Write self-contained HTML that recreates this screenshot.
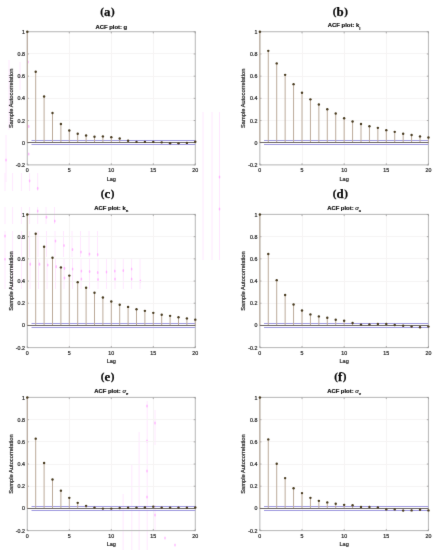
<!DOCTYPE html>
<html><head><meta charset="utf-8"><title>ACF plots</title>
<style>
html,body{margin:0;padding:0;background:#fff;}
body{width:438px;height:550px;overflow:hidden;font-family:"Liberation Sans",sans-serif;}
svg{display:block;will-change:transform;}
</style></head><body>
<svg width="438" height="550" viewBox="0 0 438 550" font-family="Liberation Sans, sans-serif"><defs><filter id="bl" x="0" y="0" width="100%" height="100%" color-interpolation-filters="sRGB"><feConvolveMatrix order="3" kernelMatrix="0.00524 0.06192 0.00524 0.06192 0.73137 0.06192 0.00524 0.06192 0.00524" edgeMode="duplicate"/></filter></defs><g filter="url(#bl)"><rect width="438" height="550" fill="#fff"/><g><line x1="5" y1="173" x2="5" y2="191" stroke="#ffe8ff" stroke-width="1"/><line x1="12.6" y1="173" x2="12.6" y2="191" stroke="#ffe8ff" stroke-width="1"/><line x1="21.4" y1="173" x2="21.4" y2="191" stroke="#ffe8ff" stroke-width="1"/><line x1="29.6" y1="173" x2="29.6" y2="191" stroke="#ffe8ff" stroke-width="1"/><line x1="37.7" y1="173" x2="37.7" y2="191" stroke="#ffe8ff" stroke-width="1"/><line x1="5" y1="207" x2="5" y2="224" stroke="#ffe8ff" stroke-width="1"/><line x1="12.6" y1="207" x2="12.6" y2="224" stroke="#ffe8ff" stroke-width="1"/><line x1="21.4" y1="207" x2="21.4" y2="224" stroke="#ffe8ff" stroke-width="1"/><line x1="29.6" y1="207" x2="29.6" y2="224" stroke="#ffe8ff" stroke-width="1"/><line x1="37.7" y1="207" x2="37.7" y2="224" stroke="#ffe8ff" stroke-width="1"/><line x1="46" y1="207" x2="46" y2="224" stroke="#ffe8ff" stroke-width="1"/><line x1="54.5" y1="207" x2="54.5" y2="224" stroke="#ffe8ff" stroke-width="1"/><line x1="5" y1="231" x2="5" y2="257" stroke="#ffe8ff" stroke-width="1"/><line x1="12.6" y1="231" x2="12.6" y2="257" stroke="#ffe8ff" stroke-width="1"/><line x1="21.4" y1="231" x2="21.4" y2="257" stroke="#ffe8ff" stroke-width="1"/><line x1="29.6" y1="231" x2="29.6" y2="257" stroke="#ffe8ff" stroke-width="1"/><line x1="38" y1="231" x2="38" y2="257" stroke="#ffe8ff" stroke-width="1"/><line x1="46.5" y1="231" x2="46.5" y2="257" stroke="#ffe8ff" stroke-width="1"/><line x1="55" y1="231" x2="55" y2="257" stroke="#ffe8ff" stroke-width="1"/><line x1="63.5" y1="231" x2="63.5" y2="257" stroke="#ffe8ff" stroke-width="1"/><line x1="72" y1="231" x2="72" y2="257" stroke="#ffe8ff" stroke-width="1"/><line x1="80.5" y1="231" x2="80.5" y2="257" stroke="#ffe8ff" stroke-width="1"/><line x1="89" y1="231" x2="89" y2="257" stroke="#ffe8ff" stroke-width="1"/><line x1="97.5" y1="231" x2="97.5" y2="257" stroke="#ffe8ff" stroke-width="1"/><line x1="5" y1="259" x2="5" y2="289" stroke="#ffe8ff" stroke-width="1"/><line x1="12.6" y1="259" x2="12.6" y2="289" stroke="#ffe8ff" stroke-width="1"/><line x1="21.4" y1="259" x2="21.4" y2="289" stroke="#ffe8ff" stroke-width="1"/><line x1="30" y1="259" x2="30" y2="289" stroke="#ffe8ff" stroke-width="1"/><line x1="38.5" y1="259" x2="38.5" y2="289" stroke="#ffe8ff" stroke-width="1"/><line x1="47" y1="259" x2="47" y2="289" stroke="#ffe8ff" stroke-width="1"/><line x1="55.5" y1="259" x2="55.5" y2="289" stroke="#ffe8ff" stroke-width="1"/><line x1="64" y1="259" x2="64" y2="289" stroke="#ffe8ff" stroke-width="1"/><line x1="72.5" y1="259" x2="72.5" y2="289" stroke="#ffe8ff" stroke-width="1"/><line x1="81" y1="259" x2="81" y2="289" stroke="#ffe8ff" stroke-width="1"/><line x1="89.5" y1="259" x2="89.5" y2="289" stroke="#ffe8ff" stroke-width="1"/><line x1="98" y1="259" x2="98" y2="289" stroke="#ffe8ff" stroke-width="1"/><line x1="106.5" y1="259" x2="106.5" y2="289" stroke="#ffe8ff" stroke-width="1"/><line x1="115" y1="259" x2="115" y2="289" stroke="#ffe8ff" stroke-width="1"/><line x1="123.3" y1="259" x2="123.3" y2="289" stroke="#ffe8ff" stroke-width="1"/><line x1="131.6" y1="259" x2="131.6" y2="289" stroke="#ffe8ff" stroke-width="1"/><line x1="140" y1="259" x2="140" y2="289" stroke="#ffe8ff" stroke-width="1"/><line x1="123.1" y1="494" x2="123.1" y2="550" stroke="#ffe8ff" stroke-width="1"/><line x1="131.8" y1="464" x2="131.8" y2="550" stroke="#ffe8ff" stroke-width="1"/><line x1="139.1" y1="432" x2="139.1" y2="550" stroke="#ffe8ff" stroke-width="1"/><line x1="147.2" y1="401" x2="147.2" y2="550" stroke="#ffe8ff" stroke-width="1"/><line x1="155" y1="410" x2="155" y2="445" stroke="#ffe8ff" stroke-width="1"/><line x1="155" y1="505" x2="155" y2="530" stroke="#ffe8ff" stroke-width="1"/><line x1="203" y1="112" x2="203" y2="260" stroke="#ffe8ff" stroke-width="1"/><line x1="212" y1="112" x2="212" y2="260" stroke="#ffe8ff" stroke-width="1"/><line x1="219.5" y1="112" x2="219.5" y2="260" stroke="#ffe8ff" stroke-width="1"/><line x1="6" y1="135" x2="6" y2="182" stroke="#ffe8ff" stroke-width="1"/><line x1="9" y1="60" x2="9" y2="130" stroke="#ffe8ff" stroke-width="1"/><line x1="20" y1="62" x2="20" y2="90" stroke="#ffe8ff" stroke-width="1"/><ellipse cx="29.6" cy="180.8" rx="0.8" ry="1.6" fill="#ff90ff" fill-opacity="0.6"/><ellipse cx="37.7" cy="188.3" rx="0.8" ry="1.6" fill="#ff90ff" fill-opacity="0.6"/><ellipse cx="37.7" cy="211" rx="0.8" ry="1.6" fill="#ff90ff" fill-opacity="0.6"/><ellipse cx="46.5" cy="217.2" rx="0.8" ry="1.6" fill="#ff90ff" fill-opacity="0.6"/><ellipse cx="54.8" cy="221" rx="0.8" ry="1.6" fill="#ff90ff" fill-opacity="0.6"/><ellipse cx="5" cy="236" rx="0.8" ry="1.6" fill="#ff90ff" fill-opacity="0.6"/><ellipse cx="55.5" cy="241" rx="0.8" ry="1.6" fill="#ff90ff" fill-opacity="0.6"/><ellipse cx="64" cy="245.5" rx="0.8" ry="1.6" fill="#ff90ff" fill-opacity="0.6"/><ellipse cx="72.5" cy="249.5" rx="0.8" ry="1.6" fill="#ff90ff" fill-opacity="0.6"/><ellipse cx="81" cy="252" rx="0.8" ry="1.6" fill="#ff90ff" fill-opacity="0.6"/><ellipse cx="89.5" cy="254" rx="0.8" ry="1.6" fill="#ff90ff" fill-opacity="0.6"/><ellipse cx="97.7" cy="254.5" rx="0.8" ry="1.6" fill="#ff90ff" fill-opacity="0.6"/><ellipse cx="5" cy="259" rx="0.8" ry="1.6" fill="#ff90ff" fill-opacity="0.6"/><ellipse cx="30.3" cy="264.2" rx="0.8" ry="1.6" fill="#ff90ff" fill-opacity="0.6"/><ellipse cx="39.5" cy="264.2" rx="0.8" ry="1.6" fill="#ff90ff" fill-opacity="0.6"/><ellipse cx="47.8" cy="265" rx="0.8" ry="1.6" fill="#ff90ff" fill-opacity="0.6"/><ellipse cx="56.2" cy="266.7" rx="0.8" ry="1.6" fill="#ff90ff" fill-opacity="0.6"/><ellipse cx="64.5" cy="268.3" rx="0.8" ry="1.6" fill="#ff90ff" fill-opacity="0.6"/><ellipse cx="72.6" cy="269" rx="0.8" ry="1.6" fill="#ff90ff" fill-opacity="0.6"/><ellipse cx="81.4" cy="271" rx="0.8" ry="1.6" fill="#ff90ff" fill-opacity="0.6"/><ellipse cx="89.6" cy="271.5" rx="0.8" ry="1.6" fill="#ff90ff" fill-opacity="0.6"/><ellipse cx="97.7" cy="272.5" rx="0.8" ry="1.6" fill="#ff90ff" fill-opacity="0.6"/><ellipse cx="106.5" cy="272" rx="0.8" ry="1.6" fill="#ff90ff" fill-opacity="0.6"/><ellipse cx="114.8" cy="271" rx="0.8" ry="1.6" fill="#ff90ff" fill-opacity="0.6"/><ellipse cx="123.3" cy="270.5" rx="0.8" ry="1.6" fill="#ff90ff" fill-opacity="0.6"/><ellipse cx="131.6" cy="269" rx="0.8" ry="1.6" fill="#ff90ff" fill-opacity="0.6"/><ellipse cx="64.5" cy="278" rx="0.8" ry="1.6" fill="#ff90ff" fill-opacity="0.6"/><ellipse cx="81.4" cy="279" rx="0.8" ry="1.6" fill="#ff90ff" fill-opacity="0.6"/><ellipse cx="98" cy="279.5" rx="0.8" ry="1.6" fill="#ff90ff" fill-opacity="0.6"/><ellipse cx="115" cy="279" rx="0.8" ry="1.6" fill="#ff90ff" fill-opacity="0.6"/><ellipse cx="131.6" cy="279" rx="0.8" ry="1.6" fill="#ff90ff" fill-opacity="0.6"/><ellipse cx="140.4" cy="281" rx="0.8" ry="1.6" fill="#ff90ff" fill-opacity="0.6"/><ellipse cx="147" cy="406" rx="0.8" ry="1.6" fill="#ff90ff" fill-opacity="0.6"/><ellipse cx="147" cy="441" rx="0.8" ry="1.6" fill="#ff90ff" fill-opacity="0.6"/><ellipse cx="147" cy="471" rx="0.8" ry="1.6" fill="#ff90ff" fill-opacity="0.6"/><ellipse cx="147" cy="497" rx="0.8" ry="1.6" fill="#ff90ff" fill-opacity="0.6"/><ellipse cx="155" cy="423" rx="0.8" ry="1.6" fill="#ff90ff" fill-opacity="0.6"/><ellipse cx="155" cy="515" rx="0.8" ry="1.6" fill="#ff90ff" fill-opacity="0.6"/><ellipse cx="165" cy="538" rx="0.8" ry="1.6" fill="#ff90ff" fill-opacity="0.6"/><ellipse cx="175" cy="545" rx="0.8" ry="1.6" fill="#ff90ff" fill-opacity="0.6"/><ellipse cx="219.5" cy="177" rx="0.8" ry="1.6" fill="#ff90ff" fill-opacity="0.6"/><ellipse cx="219.5" cy="209" rx="0.8" ry="1.6" fill="#ff90ff" fill-opacity="0.6"/><ellipse cx="28.7" cy="126.4" rx="0.8" ry="1.6" fill="#ff90ff" fill-opacity="0.6"/><ellipse cx="28.7" cy="154" rx="0.8" ry="1.6" fill="#ff90ff" fill-opacity="0.6"/><ellipse cx="28" cy="62" rx="0.8" ry="1.6" fill="#ff90ff" fill-opacity="0.6"/><ellipse cx="6" cy="160" rx="0.8" ry="1.6" fill="#ff90ff" fill-opacity="0.6"/></g>
<g><text x="107.55" y="14.83" font-family="Liberation Serif" font-weight="bold" font-size="11.0" text-anchor="middle" fill="#0a0a0a" stroke="#0a0a0a" stroke-width="0.25">(<tspan font-size="12.9" dy="0.87" dx="0.1">a</tspan><tspan dy="-0.87" dx="0.5">)</tspan></text><text x="111.3" y="29.45" font-family="Liberation Sans" font-weight="bold" font-size="5.9" text-anchor="middle" fill="#0a0a0a" stroke="#0a0a0a" stroke-width="0.16">ACF plot: g</text><line x1="69.5" y1="31.8" x2="69.5" y2="164.88" stroke="#f6f4f4" stroke-width="1"/><line x1="111.5" y1="31.8" x2="111.5" y2="164.88" stroke="#f6f4f4" stroke-width="1"/><line x1="153.5" y1="31.8" x2="153.5" y2="164.88" stroke="#f6f4f4" stroke-width="1"/><line x1="27.3" y1="53.5" x2="195.3" y2="53.5" stroke="#f6f4f4" stroke-width="1"/><line x1="27.3" y1="76.5" x2="195.3" y2="76.5" stroke="#f6f4f4" stroke-width="1"/><line x1="27.3" y1="98.5" x2="195.3" y2="98.5" stroke="#f6f4f4" stroke-width="1"/><line x1="27.3" y1="120.5" x2="195.3" y2="120.5" stroke="#f6f4f4" stroke-width="1"/><line x1="27.3" y1="142.5" x2="195.3" y2="142.5" stroke="#f6f4f4" stroke-width="1"/><rect x="27.3" y="31.7" width="168" height="133.18" fill="none" stroke="#bdbdbd" stroke-width="1.1"/><line x1="27.3" y1="164.88" x2="27.3" y2="163.28" stroke="#9a9a9a" stroke-width="0.8"/><line x1="27.3" y1="31.8" x2="27.3" y2="33.4" stroke="#9a9a9a" stroke-width="0.8"/><line x1="69.3" y1="164.88" x2="69.3" y2="163.28" stroke="#9a9a9a" stroke-width="0.8"/><line x1="69.3" y1="31.8" x2="69.3" y2="33.4" stroke="#9a9a9a" stroke-width="0.8"/><line x1="111.3" y1="164.88" x2="111.3" y2="163.28" stroke="#9a9a9a" stroke-width="0.8"/><line x1="111.3" y1="31.8" x2="111.3" y2="33.4" stroke="#9a9a9a" stroke-width="0.8"/><line x1="153.3" y1="164.88" x2="153.3" y2="163.28" stroke="#9a9a9a" stroke-width="0.8"/><line x1="153.3" y1="31.8" x2="153.3" y2="33.4" stroke="#9a9a9a" stroke-width="0.8"/><line x1="195.3" y1="164.88" x2="195.3" y2="163.28" stroke="#9a9a9a" stroke-width="0.8"/><line x1="195.3" y1="31.8" x2="195.3" y2="33.4" stroke="#9a9a9a" stroke-width="0.8"/><line x1="27.3" y1="31.8" x2="28.9" y2="31.8" stroke="#9a9a9a" stroke-width="0.8"/><line x1="195.3" y1="31.8" x2="193.7" y2="31.8" stroke="#9a9a9a" stroke-width="0.8"/><line x1="27.3" y1="53.98" x2="28.9" y2="53.98" stroke="#9a9a9a" stroke-width="0.8"/><line x1="195.3" y1="53.98" x2="193.7" y2="53.98" stroke="#9a9a9a" stroke-width="0.8"/><line x1="27.3" y1="76.16" x2="28.9" y2="76.16" stroke="#9a9a9a" stroke-width="0.8"/><line x1="195.3" y1="76.16" x2="193.7" y2="76.16" stroke="#9a9a9a" stroke-width="0.8"/><line x1="27.3" y1="98.34" x2="28.9" y2="98.34" stroke="#9a9a9a" stroke-width="0.8"/><line x1="195.3" y1="98.34" x2="193.7" y2="98.34" stroke="#9a9a9a" stroke-width="0.8"/><line x1="27.3" y1="120.52" x2="28.9" y2="120.52" stroke="#9a9a9a" stroke-width="0.8"/><line x1="195.3" y1="120.52" x2="193.7" y2="120.52" stroke="#9a9a9a" stroke-width="0.8"/><line x1="27.3" y1="142.7" x2="28.9" y2="142.7" stroke="#9a9a9a" stroke-width="0.8"/><line x1="195.3" y1="142.7" x2="193.7" y2="142.7" stroke="#9a9a9a" stroke-width="0.8"/><line x1="27.3" y1="164.88" x2="28.9" y2="164.88" stroke="#9a9a9a" stroke-width="0.8"/><line x1="195.3" y1="164.88" x2="193.7" y2="164.88" stroke="#9a9a9a" stroke-width="0.8"/><text x="24.9" y="33.8" font-size="5.3" text-anchor="end" fill="#2a2a2a" stroke="#2a2a2a" stroke-width="0.22">1</text><text x="24.9" y="55.98" font-size="5.3" text-anchor="end" fill="#2a2a2a" stroke="#2a2a2a" stroke-width="0.22">0.8</text><text x="24.9" y="78.16" font-size="5.3" text-anchor="end" fill="#2a2a2a" stroke="#2a2a2a" stroke-width="0.22">0.6</text><text x="24.9" y="100.34" font-size="5.3" text-anchor="end" fill="#2a2a2a" stroke="#2a2a2a" stroke-width="0.22">0.4</text><text x="24.9" y="122.52" font-size="5.3" text-anchor="end" fill="#2a2a2a" stroke="#2a2a2a" stroke-width="0.22">0.2</text><text x="24.9" y="144.7" font-size="5.3" text-anchor="end" fill="#2a2a2a" stroke="#2a2a2a" stroke-width="0.22">0</text><text x="24.9" y="166.88" font-size="5.3" text-anchor="end" fill="#2a2a2a" stroke="#2a2a2a" stroke-width="0.22">-0.2</text><text x="27.3" y="172.48" font-size="5.3" text-anchor="middle" fill="#2a2a2a" stroke="#2a2a2a" stroke-width="0.22">0</text><text x="69.3" y="172.48" font-size="5.3" text-anchor="middle" fill="#2a2a2a" stroke="#2a2a2a" stroke-width="0.22">5</text><text x="111.3" y="172.48" font-size="5.3" text-anchor="middle" fill="#2a2a2a" stroke="#2a2a2a" stroke-width="0.22">10</text><text x="153.3" y="172.48" font-size="5.3" text-anchor="middle" fill="#2a2a2a" stroke="#2a2a2a" stroke-width="0.22">15</text><text x="195.3" y="172.48" font-size="5.3" text-anchor="middle" fill="#2a2a2a" stroke="#2a2a2a" stroke-width="0.22">20</text><text x="111.3" y="180.78" font-size="5.6" text-anchor="middle" fill="#2a2a2a" stroke="#2a2a2a" stroke-width="0.22">Lag</text><text x="0" y="0" transform="translate(12.8,98.34) rotate(-90)" font-size="5.75" text-anchor="middle" fill="#2a2a2a" stroke="#2a2a2a" stroke-width="0.22">Sample Autocorrelation</text><line x1="31.5" y1="140.5" x2="195.3" y2="140.5" stroke="#a09ae0" stroke-width="1"/><line x1="31.5" y1="144.5" x2="195.3" y2="144.5" stroke="#a09ae0" stroke-width="1"/><line x1="27.3" y1="142.7" x2="27.3" y2="31.8" stroke="#bcab9b" stroke-width="1"/><line x1="35.7" y1="142.7" x2="35.7" y2="71.72" stroke="#bcab9b" stroke-width="1"/><line x1="44.1" y1="142.7" x2="44.1" y2="96.57" stroke="#bcab9b" stroke-width="1"/><line x1="52.5" y1="142.7" x2="52.5" y2="112.98" stroke="#bcab9b" stroke-width="1"/><line x1="60.9" y1="142.7" x2="60.9" y2="123.96" stroke="#bcab9b" stroke-width="1"/><line x1="69.3" y1="142.7" x2="69.3" y2="130.5" stroke="#bcab9b" stroke-width="1"/><line x1="77.7" y1="142.7" x2="77.7" y2="133.72" stroke="#bcab9b" stroke-width="1"/><line x1="86.1" y1="142.7" x2="86.1" y2="135.49" stroke="#bcab9b" stroke-width="1"/><line x1="94.5" y1="142.7" x2="94.5" y2="136.71" stroke="#bcab9b" stroke-width="1"/><line x1="102.9" y1="142.7" x2="102.9" y2="136.38" stroke="#bcab9b" stroke-width="1"/><line x1="111.3" y1="142.7" x2="111.3" y2="137.16" stroke="#bcab9b" stroke-width="1"/><line x1="119.7" y1="142.7" x2="119.7" y2="138.49" stroke="#bcab9b" stroke-width="1"/><line x1="128.1" y1="142.7" x2="128.1" y2="140.7" stroke="#bcab9b" stroke-width="1"/><line x1="136.5" y1="142.7" x2="136.5" y2="141.92" stroke="#bcab9b" stroke-width="1"/><line x1="144.9" y1="142.7" x2="144.9" y2="141.92" stroke="#bcab9b" stroke-width="1"/><line x1="153.3" y1="142.7" x2="153.3" y2="141.92" stroke="#bcab9b" stroke-width="1"/><line x1="161.7" y1="142.7" x2="161.7" y2="142.37" stroke="#bcab9b" stroke-width="1"/><line x1="170.1" y1="142.7" x2="170.1" y2="143.25" stroke="#bcab9b" stroke-width="1"/><line x1="178.5" y1="142.7" x2="178.5" y2="143.37" stroke="#bcab9b" stroke-width="1"/><line x1="186.9" y1="142.7" x2="186.9" y2="142.92" stroke="#bcab9b" stroke-width="1"/><line x1="195.3" y1="142.7" x2="195.3" y2="141.81" stroke="#bcab9b" stroke-width="1"/><line x1="27.3" y1="142.5" x2="195.3" y2="142.5" stroke="#6e6866" stroke-width="1"/><circle cx="27.3" cy="31.8" r="1.2" fill="#4a3d22"/><circle cx="35.7" cy="71.72" r="1.2" fill="#4a3d22"/><circle cx="44.1" cy="96.57" r="1.2" fill="#4a3d22"/><circle cx="52.5" cy="112.98" r="1.2" fill="#4a3d22"/><circle cx="60.9" cy="123.96" r="1.2" fill="#4a3d22"/><circle cx="69.3" cy="130.5" r="1.2" fill="#4a3d22"/><circle cx="77.7" cy="133.72" r="1.2" fill="#4a3d22"/><circle cx="86.1" cy="135.49" r="1.2" fill="#4a3d22"/><circle cx="94.5" cy="136.71" r="1.2" fill="#4a3d22"/><circle cx="102.9" cy="136.38" r="1.2" fill="#4a3d22"/><circle cx="111.3" cy="137.16" r="1.2" fill="#4a3d22"/><circle cx="119.7" cy="138.49" r="1.2" fill="#4a3d22"/><circle cx="128.1" cy="140.7" r="1.2" fill="#4a3d22"/><circle cx="136.5" cy="141.92" r="1.2" fill="#4a3d22"/><circle cx="144.9" cy="141.92" r="1.2" fill="#4a3d22"/><circle cx="153.3" cy="141.92" r="1.2" fill="#4a3d22"/><circle cx="161.7" cy="142.37" r="1.2" fill="#4a3d22"/><circle cx="170.1" cy="143.25" r="1.2" fill="#4a3d22"/><circle cx="178.5" cy="143.37" r="1.2" fill="#4a3d22"/><circle cx="186.9" cy="142.92" r="1.2" fill="#4a3d22"/><circle cx="195.3" cy="141.81" r="1.2" fill="#4a3d22"/></g>
<g><text x="340.4" y="14.83" font-family="Liberation Serif" font-weight="bold" font-size="11.0" text-anchor="middle" fill="#0a0a0a" stroke="#0a0a0a" stroke-width="0.25">(<tspan font-size="12.9" dy="0.87" dx="0.1">b</tspan><tspan dy="-0.87" dx="0.5">)</tspan></text><text x="344.15" y="27.4" font-family="Liberation Sans" font-weight="bold" font-size="5.9" text-anchor="middle" fill="#0a0a0a" stroke="#0a0a0a" stroke-width="0.16">ACF plot: k<tspan dy="2.4" font-size="4.2">l</tspan></text><line x1="302.5" y1="31.8" x2="302.5" y2="164.88" stroke="#f6f4f4" stroke-width="1"/><line x1="344.5" y1="31.8" x2="344.5" y2="164.88" stroke="#f6f4f4" stroke-width="1"/><line x1="386.5" y1="31.8" x2="386.5" y2="164.88" stroke="#f6f4f4" stroke-width="1"/><line x1="259.85" y1="53.5" x2="428.45" y2="53.5" stroke="#f6f4f4" stroke-width="1"/><line x1="259.85" y1="76.5" x2="428.45" y2="76.5" stroke="#f6f4f4" stroke-width="1"/><line x1="259.85" y1="98.5" x2="428.45" y2="98.5" stroke="#f6f4f4" stroke-width="1"/><line x1="259.85" y1="120.5" x2="428.45" y2="120.5" stroke="#f6f4f4" stroke-width="1"/><line x1="259.85" y1="142.5" x2="428.45" y2="142.5" stroke="#f6f4f4" stroke-width="1"/><rect x="259.85" y="31.7" width="168.6" height="133.18" fill="none" stroke="#bdbdbd" stroke-width="1.1"/><line x1="259.85" y1="164.88" x2="259.85" y2="163.28" stroke="#9a9a9a" stroke-width="0.8"/><line x1="259.85" y1="31.8" x2="259.85" y2="33.4" stroke="#9a9a9a" stroke-width="0.8"/><line x1="302" y1="164.88" x2="302" y2="163.28" stroke="#9a9a9a" stroke-width="0.8"/><line x1="302" y1="31.8" x2="302" y2="33.4" stroke="#9a9a9a" stroke-width="0.8"/><line x1="344.15" y1="164.88" x2="344.15" y2="163.28" stroke="#9a9a9a" stroke-width="0.8"/><line x1="344.15" y1="31.8" x2="344.15" y2="33.4" stroke="#9a9a9a" stroke-width="0.8"/><line x1="386.3" y1="164.88" x2="386.3" y2="163.28" stroke="#9a9a9a" stroke-width="0.8"/><line x1="386.3" y1="31.8" x2="386.3" y2="33.4" stroke="#9a9a9a" stroke-width="0.8"/><line x1="428.45" y1="164.88" x2="428.45" y2="163.28" stroke="#9a9a9a" stroke-width="0.8"/><line x1="428.45" y1="31.8" x2="428.45" y2="33.4" stroke="#9a9a9a" stroke-width="0.8"/><line x1="259.85" y1="31.8" x2="261.45" y2="31.8" stroke="#9a9a9a" stroke-width="0.8"/><line x1="428.45" y1="31.8" x2="426.85" y2="31.8" stroke="#9a9a9a" stroke-width="0.8"/><line x1="259.85" y1="53.98" x2="261.45" y2="53.98" stroke="#9a9a9a" stroke-width="0.8"/><line x1="428.45" y1="53.98" x2="426.85" y2="53.98" stroke="#9a9a9a" stroke-width="0.8"/><line x1="259.85" y1="76.16" x2="261.45" y2="76.16" stroke="#9a9a9a" stroke-width="0.8"/><line x1="428.45" y1="76.16" x2="426.85" y2="76.16" stroke="#9a9a9a" stroke-width="0.8"/><line x1="259.85" y1="98.34" x2="261.45" y2="98.34" stroke="#9a9a9a" stroke-width="0.8"/><line x1="428.45" y1="98.34" x2="426.85" y2="98.34" stroke="#9a9a9a" stroke-width="0.8"/><line x1="259.85" y1="120.52" x2="261.45" y2="120.52" stroke="#9a9a9a" stroke-width="0.8"/><line x1="428.45" y1="120.52" x2="426.85" y2="120.52" stroke="#9a9a9a" stroke-width="0.8"/><line x1="259.85" y1="142.7" x2="261.45" y2="142.7" stroke="#9a9a9a" stroke-width="0.8"/><line x1="428.45" y1="142.7" x2="426.85" y2="142.7" stroke="#9a9a9a" stroke-width="0.8"/><line x1="259.85" y1="164.88" x2="261.45" y2="164.88" stroke="#9a9a9a" stroke-width="0.8"/><line x1="428.45" y1="164.88" x2="426.85" y2="164.88" stroke="#9a9a9a" stroke-width="0.8"/><text x="257.45" y="33.8" font-size="5.3" text-anchor="end" fill="#2a2a2a" stroke="#2a2a2a" stroke-width="0.22">1</text><text x="257.45" y="55.98" font-size="5.3" text-anchor="end" fill="#2a2a2a" stroke="#2a2a2a" stroke-width="0.22">0.8</text><text x="257.45" y="78.16" font-size="5.3" text-anchor="end" fill="#2a2a2a" stroke="#2a2a2a" stroke-width="0.22">0.6</text><text x="257.45" y="100.34" font-size="5.3" text-anchor="end" fill="#2a2a2a" stroke="#2a2a2a" stroke-width="0.22">0.4</text><text x="257.45" y="122.52" font-size="5.3" text-anchor="end" fill="#2a2a2a" stroke="#2a2a2a" stroke-width="0.22">0.2</text><text x="257.45" y="144.7" font-size="5.3" text-anchor="end" fill="#2a2a2a" stroke="#2a2a2a" stroke-width="0.22">0</text><text x="257.45" y="166.88" font-size="5.3" text-anchor="end" fill="#2a2a2a" stroke="#2a2a2a" stroke-width="0.22">-0.2</text><text x="259.85" y="172.48" font-size="5.3" text-anchor="middle" fill="#2a2a2a" stroke="#2a2a2a" stroke-width="0.22">0</text><text x="302" y="172.48" font-size="5.3" text-anchor="middle" fill="#2a2a2a" stroke="#2a2a2a" stroke-width="0.22">5</text><text x="344.15" y="172.48" font-size="5.3" text-anchor="middle" fill="#2a2a2a" stroke="#2a2a2a" stroke-width="0.22">10</text><text x="386.3" y="172.48" font-size="5.3" text-anchor="middle" fill="#2a2a2a" stroke="#2a2a2a" stroke-width="0.22">15</text><text x="428.45" y="172.48" font-size="5.3" text-anchor="middle" fill="#2a2a2a" stroke="#2a2a2a" stroke-width="0.22">20</text><text x="344.15" y="180.78" font-size="5.6" text-anchor="middle" fill="#2a2a2a" stroke="#2a2a2a" stroke-width="0.22">Lag</text><text x="0" y="0" transform="translate(245.35,98.34) rotate(-90)" font-size="5.75" text-anchor="middle" fill="#2a2a2a" stroke="#2a2a2a" stroke-width="0.22">Sample Autocorrelation</text><line x1="264.06" y1="140.5" x2="428.45" y2="140.5" stroke="#a09ae0" stroke-width="1"/><line x1="264.06" y1="144.5" x2="428.45" y2="144.5" stroke="#a09ae0" stroke-width="1"/><line x1="259.85" y1="142.7" x2="259.85" y2="31.8" stroke="#bcab9b" stroke-width="1"/><line x1="268.28" y1="142.7" x2="268.28" y2="50.87" stroke="#bcab9b" stroke-width="1"/><line x1="276.71" y1="142.7" x2="276.71" y2="63.41" stroke="#bcab9b" stroke-width="1"/><line x1="285.14" y1="142.7" x2="285.14" y2="74.83" stroke="#bcab9b" stroke-width="1"/><line x1="293.57" y1="142.7" x2="293.57" y2="84.14" stroke="#bcab9b" stroke-width="1"/><line x1="302" y1="142.7" x2="302" y2="92.68" stroke="#bcab9b" stroke-width="1"/><line x1="310.43" y1="142.7" x2="310.43" y2="99.34" stroke="#bcab9b" stroke-width="1"/><line x1="318.86" y1="142.7" x2="318.86" y2="104.44" stroke="#bcab9b" stroke-width="1"/><line x1="327.29" y1="142.7" x2="327.29" y2="109.21" stroke="#bcab9b" stroke-width="1"/><line x1="335.72" y1="142.7" x2="335.72" y2="113.53" stroke="#bcab9b" stroke-width="1"/><line x1="344.15" y1="142.7" x2="344.15" y2="118.19" stroke="#bcab9b" stroke-width="1"/><line x1="352.58" y1="142.7" x2="352.58" y2="121.52" stroke="#bcab9b" stroke-width="1"/><line x1="361.01" y1="142.7" x2="361.01" y2="123.96" stroke="#bcab9b" stroke-width="1"/><line x1="369.44" y1="142.7" x2="369.44" y2="126.18" stroke="#bcab9b" stroke-width="1"/><line x1="377.87" y1="142.7" x2="377.87" y2="127.84" stroke="#bcab9b" stroke-width="1"/><line x1="386.3" y1="142.7" x2="386.3" y2="130.17" stroke="#bcab9b" stroke-width="1"/><line x1="394.73" y1="142.7" x2="394.73" y2="131.83" stroke="#bcab9b" stroke-width="1"/><line x1="403.16" y1="142.7" x2="403.16" y2="133.72" stroke="#bcab9b" stroke-width="1"/><line x1="411.59" y1="142.7" x2="411.59" y2="135.05" stroke="#bcab9b" stroke-width="1"/><line x1="420.02" y1="142.7" x2="420.02" y2="136.38" stroke="#bcab9b" stroke-width="1"/><line x1="428.45" y1="142.7" x2="428.45" y2="137.49" stroke="#bcab9b" stroke-width="1"/><line x1="259.85" y1="142.5" x2="428.45" y2="142.5" stroke="#6e6866" stroke-width="1"/><circle cx="259.85" cy="31.8" r="1.2" fill="#4a3d22"/><circle cx="268.28" cy="50.87" r="1.2" fill="#4a3d22"/><circle cx="276.71" cy="63.41" r="1.2" fill="#4a3d22"/><circle cx="285.14" cy="74.83" r="1.2" fill="#4a3d22"/><circle cx="293.57" cy="84.14" r="1.2" fill="#4a3d22"/><circle cx="302" cy="92.68" r="1.2" fill="#4a3d22"/><circle cx="310.43" cy="99.34" r="1.2" fill="#4a3d22"/><circle cx="318.86" cy="104.44" r="1.2" fill="#4a3d22"/><circle cx="327.29" cy="109.21" r="1.2" fill="#4a3d22"/><circle cx="335.72" cy="113.53" r="1.2" fill="#4a3d22"/><circle cx="344.15" cy="118.19" r="1.2" fill="#4a3d22"/><circle cx="352.58" cy="121.52" r="1.2" fill="#4a3d22"/><circle cx="361.01" cy="123.96" r="1.2" fill="#4a3d22"/><circle cx="369.44" cy="126.18" r="1.2" fill="#4a3d22"/><circle cx="377.87" cy="127.84" r="1.2" fill="#4a3d22"/><circle cx="386.3" cy="130.17" r="1.2" fill="#4a3d22"/><circle cx="394.73" cy="131.83" r="1.2" fill="#4a3d22"/><circle cx="403.16" cy="133.72" r="1.2" fill="#4a3d22"/><circle cx="411.59" cy="135.05" r="1.2" fill="#4a3d22"/><circle cx="420.02" cy="136.38" r="1.2" fill="#4a3d22"/><circle cx="428.45" cy="137.49" r="1.2" fill="#4a3d22"/></g>
<g><text x="107.55" y="197.03" font-family="Liberation Serif" font-weight="bold" font-size="11.0" text-anchor="middle" fill="#0a0a0a" stroke="#0a0a0a" stroke-width="0.25">(<tspan font-size="12.9" dy="0.87" dx="0.1">c</tspan><tspan dy="-0.87" dx="0.5">)</tspan></text><text x="111.3" y="209.6" font-family="Liberation Sans" font-weight="bold" font-size="5.9" text-anchor="middle" fill="#0a0a0a" stroke="#0a0a0a" stroke-width="0.16">ACF plot: k<tspan dy="2.4" font-size="4.2">n</tspan></text><line x1="69.5" y1="214.5" x2="69.5" y2="347.58" stroke="#f6f4f4" stroke-width="1"/><line x1="111.5" y1="214.5" x2="111.5" y2="347.58" stroke="#f6f4f4" stroke-width="1"/><line x1="153.5" y1="214.5" x2="153.5" y2="347.58" stroke="#f6f4f4" stroke-width="1"/><line x1="27.3" y1="236.5" x2="195.3" y2="236.5" stroke="#f6f4f4" stroke-width="1"/><line x1="27.3" y1="258.5" x2="195.3" y2="258.5" stroke="#f6f4f4" stroke-width="1"/><line x1="27.3" y1="281.5" x2="195.3" y2="281.5" stroke="#f6f4f4" stroke-width="1"/><line x1="27.3" y1="303.5" x2="195.3" y2="303.5" stroke="#f6f4f4" stroke-width="1"/><line x1="27.3" y1="325.5" x2="195.3" y2="325.5" stroke="#f6f4f4" stroke-width="1"/><rect x="27.3" y="214.4" width="168" height="133.18" fill="none" stroke="#bdbdbd" stroke-width="1.1"/><line x1="27.3" y1="347.58" x2="27.3" y2="345.98" stroke="#9a9a9a" stroke-width="0.8"/><line x1="27.3" y1="214.5" x2="27.3" y2="216.1" stroke="#9a9a9a" stroke-width="0.8"/><line x1="69.3" y1="347.58" x2="69.3" y2="345.98" stroke="#9a9a9a" stroke-width="0.8"/><line x1="69.3" y1="214.5" x2="69.3" y2="216.1" stroke="#9a9a9a" stroke-width="0.8"/><line x1="111.3" y1="347.58" x2="111.3" y2="345.98" stroke="#9a9a9a" stroke-width="0.8"/><line x1="111.3" y1="214.5" x2="111.3" y2="216.1" stroke="#9a9a9a" stroke-width="0.8"/><line x1="153.3" y1="347.58" x2="153.3" y2="345.98" stroke="#9a9a9a" stroke-width="0.8"/><line x1="153.3" y1="214.5" x2="153.3" y2="216.1" stroke="#9a9a9a" stroke-width="0.8"/><line x1="195.3" y1="347.58" x2="195.3" y2="345.98" stroke="#9a9a9a" stroke-width="0.8"/><line x1="195.3" y1="214.5" x2="195.3" y2="216.1" stroke="#9a9a9a" stroke-width="0.8"/><line x1="27.3" y1="214.5" x2="28.9" y2="214.5" stroke="#9a9a9a" stroke-width="0.8"/><line x1="195.3" y1="214.5" x2="193.7" y2="214.5" stroke="#9a9a9a" stroke-width="0.8"/><line x1="27.3" y1="236.68" x2="28.9" y2="236.68" stroke="#9a9a9a" stroke-width="0.8"/><line x1="195.3" y1="236.68" x2="193.7" y2="236.68" stroke="#9a9a9a" stroke-width="0.8"/><line x1="27.3" y1="258.86" x2="28.9" y2="258.86" stroke="#9a9a9a" stroke-width="0.8"/><line x1="195.3" y1="258.86" x2="193.7" y2="258.86" stroke="#9a9a9a" stroke-width="0.8"/><line x1="27.3" y1="281.04" x2="28.9" y2="281.04" stroke="#9a9a9a" stroke-width="0.8"/><line x1="195.3" y1="281.04" x2="193.7" y2="281.04" stroke="#9a9a9a" stroke-width="0.8"/><line x1="27.3" y1="303.22" x2="28.9" y2="303.22" stroke="#9a9a9a" stroke-width="0.8"/><line x1="195.3" y1="303.22" x2="193.7" y2="303.22" stroke="#9a9a9a" stroke-width="0.8"/><line x1="27.3" y1="325.4" x2="28.9" y2="325.4" stroke="#9a9a9a" stroke-width="0.8"/><line x1="195.3" y1="325.4" x2="193.7" y2="325.4" stroke="#9a9a9a" stroke-width="0.8"/><line x1="27.3" y1="347.58" x2="28.9" y2="347.58" stroke="#9a9a9a" stroke-width="0.8"/><line x1="195.3" y1="347.58" x2="193.7" y2="347.58" stroke="#9a9a9a" stroke-width="0.8"/><text x="24.9" y="216.5" font-size="5.3" text-anchor="end" fill="#2a2a2a" stroke="#2a2a2a" stroke-width="0.22">1</text><text x="24.9" y="238.68" font-size="5.3" text-anchor="end" fill="#2a2a2a" stroke="#2a2a2a" stroke-width="0.22">0.8</text><text x="24.9" y="260.86" font-size="5.3" text-anchor="end" fill="#2a2a2a" stroke="#2a2a2a" stroke-width="0.22">0.6</text><text x="24.9" y="283.04" font-size="5.3" text-anchor="end" fill="#2a2a2a" stroke="#2a2a2a" stroke-width="0.22">0.4</text><text x="24.9" y="305.22" font-size="5.3" text-anchor="end" fill="#2a2a2a" stroke="#2a2a2a" stroke-width="0.22">0.2</text><text x="24.9" y="327.4" font-size="5.3" text-anchor="end" fill="#2a2a2a" stroke="#2a2a2a" stroke-width="0.22">0</text><text x="24.9" y="349.58" font-size="5.3" text-anchor="end" fill="#2a2a2a" stroke="#2a2a2a" stroke-width="0.22">-0.2</text><text x="27.3" y="355.18" font-size="5.3" text-anchor="middle" fill="#2a2a2a" stroke="#2a2a2a" stroke-width="0.22">0</text><text x="69.3" y="355.18" font-size="5.3" text-anchor="middle" fill="#2a2a2a" stroke="#2a2a2a" stroke-width="0.22">5</text><text x="111.3" y="355.18" font-size="5.3" text-anchor="middle" fill="#2a2a2a" stroke="#2a2a2a" stroke-width="0.22">10</text><text x="153.3" y="355.18" font-size="5.3" text-anchor="middle" fill="#2a2a2a" stroke="#2a2a2a" stroke-width="0.22">15</text><text x="195.3" y="355.18" font-size="5.3" text-anchor="middle" fill="#2a2a2a" stroke="#2a2a2a" stroke-width="0.22">20</text><text x="111.3" y="363.48" font-size="5.6" text-anchor="middle" fill="#2a2a2a" stroke="#2a2a2a" stroke-width="0.22">Lag</text><text x="0" y="0" transform="translate(12.8,281.04) rotate(-90)" font-size="5.75" text-anchor="middle" fill="#2a2a2a" stroke="#2a2a2a" stroke-width="0.22">Sample Autocorrelation</text><line x1="31.5" y1="323.5" x2="195.3" y2="323.5" stroke="#a09ae0" stroke-width="1"/><line x1="31.5" y1="327.5" x2="195.3" y2="327.5" stroke="#a09ae0" stroke-width="1"/><line x1="27.3" y1="325.4" x2="27.3" y2="214.5" stroke="#bcab9b" stroke-width="1"/><line x1="35.7" y1="325.4" x2="35.7" y2="233.69" stroke="#bcab9b" stroke-width="1"/><line x1="44.1" y1="325.4" x2="44.1" y2="246.77" stroke="#bcab9b" stroke-width="1"/><line x1="52.5" y1="325.4" x2="52.5" y2="257.75" stroke="#bcab9b" stroke-width="1"/><line x1="60.9" y1="325.4" x2="60.9" y2="267.4" stroke="#bcab9b" stroke-width="1"/><line x1="69.3" y1="325.4" x2="69.3" y2="275.61" stroke="#bcab9b" stroke-width="1"/><line x1="77.7" y1="325.4" x2="77.7" y2="282.15" stroke="#bcab9b" stroke-width="1"/><line x1="86.1" y1="325.4" x2="86.1" y2="287.69" stroke="#bcab9b" stroke-width="1"/><line x1="94.5" y1="325.4" x2="94.5" y2="292.68" stroke="#bcab9b" stroke-width="1"/><line x1="102.9" y1="325.4" x2="102.9" y2="297.45" stroke="#bcab9b" stroke-width="1"/><line x1="111.3" y1="325.4" x2="111.3" y2="301.45" stroke="#bcab9b" stroke-width="1"/><line x1="119.7" y1="325.4" x2="119.7" y2="304.77" stroke="#bcab9b" stroke-width="1"/><line x1="128.1" y1="325.4" x2="128.1" y2="306.88" stroke="#bcab9b" stroke-width="1"/><line x1="136.5" y1="325.4" x2="136.5" y2="309.32" stroke="#bcab9b" stroke-width="1"/><line x1="144.9" y1="325.4" x2="144.9" y2="310.87" stroke="#bcab9b" stroke-width="1"/><line x1="153.3" y1="325.4" x2="153.3" y2="312.87" stroke="#bcab9b" stroke-width="1"/><line x1="161.7" y1="325.4" x2="161.7" y2="314.75" stroke="#bcab9b" stroke-width="1"/><line x1="170.1" y1="325.4" x2="170.1" y2="315.86" stroke="#bcab9b" stroke-width="1"/><line x1="178.5" y1="325.4" x2="178.5" y2="317.19" stroke="#bcab9b" stroke-width="1"/><line x1="186.9" y1="325.4" x2="186.9" y2="318.41" stroke="#bcab9b" stroke-width="1"/><line x1="195.3" y1="325.4" x2="195.3" y2="319.63" stroke="#bcab9b" stroke-width="1"/><line x1="27.3" y1="325.5" x2="195.3" y2="325.5" stroke="#6e6866" stroke-width="1"/><circle cx="27.3" cy="214.5" r="1.2" fill="#4a3d22"/><circle cx="35.7" cy="233.69" r="1.2" fill="#4a3d22"/><circle cx="44.1" cy="246.77" r="1.2" fill="#4a3d22"/><circle cx="52.5" cy="257.75" r="1.2" fill="#4a3d22"/><circle cx="60.9" cy="267.4" r="1.2" fill="#4a3d22"/><circle cx="69.3" cy="275.61" r="1.2" fill="#4a3d22"/><circle cx="77.7" cy="282.15" r="1.2" fill="#4a3d22"/><circle cx="86.1" cy="287.69" r="1.2" fill="#4a3d22"/><circle cx="94.5" cy="292.68" r="1.2" fill="#4a3d22"/><circle cx="102.9" cy="297.45" r="1.2" fill="#4a3d22"/><circle cx="111.3" cy="301.45" r="1.2" fill="#4a3d22"/><circle cx="119.7" cy="304.77" r="1.2" fill="#4a3d22"/><circle cx="128.1" cy="306.88" r="1.2" fill="#4a3d22"/><circle cx="136.5" cy="309.32" r="1.2" fill="#4a3d22"/><circle cx="144.9" cy="310.87" r="1.2" fill="#4a3d22"/><circle cx="153.3" cy="312.87" r="1.2" fill="#4a3d22"/><circle cx="161.7" cy="314.75" r="1.2" fill="#4a3d22"/><circle cx="170.1" cy="315.86" r="1.2" fill="#4a3d22"/><circle cx="178.5" cy="317.19" r="1.2" fill="#4a3d22"/><circle cx="186.9" cy="318.41" r="1.2" fill="#4a3d22"/><circle cx="195.3" cy="319.63" r="1.2" fill="#4a3d22"/></g>
<g><text x="340.4" y="197.03" font-family="Liberation Serif" font-weight="bold" font-size="11.0" text-anchor="middle" fill="#0a0a0a" stroke="#0a0a0a" stroke-width="0.25">(<tspan font-size="12.9" dy="0.87" dx="0.1">d</tspan><tspan dy="-0.87" dx="0.5">)</tspan></text><text x="344.15" y="209.6" font-family="Liberation Sans" font-weight="bold" font-size="5.9" text-anchor="middle" fill="#0a0a0a" stroke="#0a0a0a" stroke-width="0.16">ACF plot: <tspan font-weight="normal" font-style="italic">σ</tspan><tspan dy="2.4" font-size="4.2">c</tspan></text><line x1="302.5" y1="214.5" x2="302.5" y2="347.58" stroke="#f6f4f4" stroke-width="1"/><line x1="344.5" y1="214.5" x2="344.5" y2="347.58" stroke="#f6f4f4" stroke-width="1"/><line x1="386.5" y1="214.5" x2="386.5" y2="347.58" stroke="#f6f4f4" stroke-width="1"/><line x1="259.85" y1="236.5" x2="428.45" y2="236.5" stroke="#f6f4f4" stroke-width="1"/><line x1="259.85" y1="258.5" x2="428.45" y2="258.5" stroke="#f6f4f4" stroke-width="1"/><line x1="259.85" y1="281.5" x2="428.45" y2="281.5" stroke="#f6f4f4" stroke-width="1"/><line x1="259.85" y1="303.5" x2="428.45" y2="303.5" stroke="#f6f4f4" stroke-width="1"/><line x1="259.85" y1="325.5" x2="428.45" y2="325.5" stroke="#f6f4f4" stroke-width="1"/><rect x="259.85" y="214.4" width="168.6" height="133.18" fill="none" stroke="#bdbdbd" stroke-width="1.1"/><line x1="259.85" y1="347.58" x2="259.85" y2="345.98" stroke="#9a9a9a" stroke-width="0.8"/><line x1="259.85" y1="214.5" x2="259.85" y2="216.1" stroke="#9a9a9a" stroke-width="0.8"/><line x1="302" y1="347.58" x2="302" y2="345.98" stroke="#9a9a9a" stroke-width="0.8"/><line x1="302" y1="214.5" x2="302" y2="216.1" stroke="#9a9a9a" stroke-width="0.8"/><line x1="344.15" y1="347.58" x2="344.15" y2="345.98" stroke="#9a9a9a" stroke-width="0.8"/><line x1="344.15" y1="214.5" x2="344.15" y2="216.1" stroke="#9a9a9a" stroke-width="0.8"/><line x1="386.3" y1="347.58" x2="386.3" y2="345.98" stroke="#9a9a9a" stroke-width="0.8"/><line x1="386.3" y1="214.5" x2="386.3" y2="216.1" stroke="#9a9a9a" stroke-width="0.8"/><line x1="428.45" y1="347.58" x2="428.45" y2="345.98" stroke="#9a9a9a" stroke-width="0.8"/><line x1="428.45" y1="214.5" x2="428.45" y2="216.1" stroke="#9a9a9a" stroke-width="0.8"/><line x1="259.85" y1="214.5" x2="261.45" y2="214.5" stroke="#9a9a9a" stroke-width="0.8"/><line x1="428.45" y1="214.5" x2="426.85" y2="214.5" stroke="#9a9a9a" stroke-width="0.8"/><line x1="259.85" y1="236.68" x2="261.45" y2="236.68" stroke="#9a9a9a" stroke-width="0.8"/><line x1="428.45" y1="236.68" x2="426.85" y2="236.68" stroke="#9a9a9a" stroke-width="0.8"/><line x1="259.85" y1="258.86" x2="261.45" y2="258.86" stroke="#9a9a9a" stroke-width="0.8"/><line x1="428.45" y1="258.86" x2="426.85" y2="258.86" stroke="#9a9a9a" stroke-width="0.8"/><line x1="259.85" y1="281.04" x2="261.45" y2="281.04" stroke="#9a9a9a" stroke-width="0.8"/><line x1="428.45" y1="281.04" x2="426.85" y2="281.04" stroke="#9a9a9a" stroke-width="0.8"/><line x1="259.85" y1="303.22" x2="261.45" y2="303.22" stroke="#9a9a9a" stroke-width="0.8"/><line x1="428.45" y1="303.22" x2="426.85" y2="303.22" stroke="#9a9a9a" stroke-width="0.8"/><line x1="259.85" y1="325.4" x2="261.45" y2="325.4" stroke="#9a9a9a" stroke-width="0.8"/><line x1="428.45" y1="325.4" x2="426.85" y2="325.4" stroke="#9a9a9a" stroke-width="0.8"/><line x1="259.85" y1="347.58" x2="261.45" y2="347.58" stroke="#9a9a9a" stroke-width="0.8"/><line x1="428.45" y1="347.58" x2="426.85" y2="347.58" stroke="#9a9a9a" stroke-width="0.8"/><text x="257.45" y="216.5" font-size="5.3" text-anchor="end" fill="#2a2a2a" stroke="#2a2a2a" stroke-width="0.22">1</text><text x="257.45" y="238.68" font-size="5.3" text-anchor="end" fill="#2a2a2a" stroke="#2a2a2a" stroke-width="0.22">0.8</text><text x="257.45" y="260.86" font-size="5.3" text-anchor="end" fill="#2a2a2a" stroke="#2a2a2a" stroke-width="0.22">0.6</text><text x="257.45" y="283.04" font-size="5.3" text-anchor="end" fill="#2a2a2a" stroke="#2a2a2a" stroke-width="0.22">0.4</text><text x="257.45" y="305.22" font-size="5.3" text-anchor="end" fill="#2a2a2a" stroke="#2a2a2a" stroke-width="0.22">0.2</text><text x="257.45" y="327.4" font-size="5.3" text-anchor="end" fill="#2a2a2a" stroke="#2a2a2a" stroke-width="0.22">0</text><text x="257.45" y="349.58" font-size="5.3" text-anchor="end" fill="#2a2a2a" stroke="#2a2a2a" stroke-width="0.22">-0.2</text><text x="259.85" y="355.18" font-size="5.3" text-anchor="middle" fill="#2a2a2a" stroke="#2a2a2a" stroke-width="0.22">0</text><text x="302" y="355.18" font-size="5.3" text-anchor="middle" fill="#2a2a2a" stroke="#2a2a2a" stroke-width="0.22">5</text><text x="344.15" y="355.18" font-size="5.3" text-anchor="middle" fill="#2a2a2a" stroke="#2a2a2a" stroke-width="0.22">10</text><text x="386.3" y="355.18" font-size="5.3" text-anchor="middle" fill="#2a2a2a" stroke="#2a2a2a" stroke-width="0.22">15</text><text x="428.45" y="355.18" font-size="5.3" text-anchor="middle" fill="#2a2a2a" stroke="#2a2a2a" stroke-width="0.22">20</text><text x="344.15" y="363.48" font-size="5.6" text-anchor="middle" fill="#2a2a2a" stroke="#2a2a2a" stroke-width="0.22">Lag</text><text x="0" y="0" transform="translate(245.35,281.04) rotate(-90)" font-size="5.75" text-anchor="middle" fill="#2a2a2a" stroke="#2a2a2a" stroke-width="0.22">Sample Autocorrelation</text><line x1="264.06" y1="323.5" x2="428.45" y2="323.5" stroke="#a09ae0" stroke-width="1"/><line x1="264.06" y1="327.5" x2="428.45" y2="327.5" stroke="#a09ae0" stroke-width="1"/><line x1="259.85" y1="325.4" x2="259.85" y2="214.5" stroke="#bcab9b" stroke-width="1"/><line x1="268.28" y1="325.4" x2="268.28" y2="253.98" stroke="#bcab9b" stroke-width="1"/><line x1="276.71" y1="325.4" x2="276.71" y2="280.15" stroke="#bcab9b" stroke-width="1"/><line x1="285.14" y1="325.4" x2="285.14" y2="295.01" stroke="#bcab9b" stroke-width="1"/><line x1="293.57" y1="325.4" x2="293.57" y2="304.55" stroke="#bcab9b" stroke-width="1"/><line x1="302" y1="325.4" x2="302" y2="310.43" stroke="#bcab9b" stroke-width="1"/><line x1="310.43" y1="325.4" x2="310.43" y2="314.42" stroke="#bcab9b" stroke-width="1"/><line x1="318.86" y1="325.4" x2="318.86" y2="316.42" stroke="#bcab9b" stroke-width="1"/><line x1="327.29" y1="325.4" x2="327.29" y2="317.75" stroke="#bcab9b" stroke-width="1"/><line x1="335.72" y1="325.4" x2="335.72" y2="319.74" stroke="#bcab9b" stroke-width="1"/><line x1="344.15" y1="325.4" x2="344.15" y2="320.74" stroke="#bcab9b" stroke-width="1"/><line x1="352.58" y1="325.4" x2="352.58" y2="323.07" stroke="#bcab9b" stroke-width="1"/><line x1="361.01" y1="325.4" x2="361.01" y2="324.62" stroke="#bcab9b" stroke-width="1"/><line x1="369.44" y1="325.4" x2="369.44" y2="324.4" stroke="#bcab9b" stroke-width="1"/><line x1="377.87" y1="325.4" x2="377.87" y2="323.96" stroke="#bcab9b" stroke-width="1"/><line x1="386.3" y1="325.4" x2="386.3" y2="324.07" stroke="#bcab9b" stroke-width="1"/><line x1="394.73" y1="325.4" x2="394.73" y2="325.07" stroke="#bcab9b" stroke-width="1"/><line x1="403.16" y1="325.4" x2="403.16" y2="325.73" stroke="#bcab9b" stroke-width="1"/><line x1="411.59" y1="325.4" x2="411.59" y2="326.62" stroke="#bcab9b" stroke-width="1"/><line x1="420.02" y1="325.4" x2="420.02" y2="327.29" stroke="#bcab9b" stroke-width="1"/><line x1="428.45" y1="325.4" x2="428.45" y2="326.62" stroke="#bcab9b" stroke-width="1"/><line x1="259.85" y1="325.5" x2="428.45" y2="325.5" stroke="#6e6866" stroke-width="1"/><circle cx="259.85" cy="214.5" r="1.2" fill="#4a3d22"/><circle cx="268.28" cy="253.98" r="1.2" fill="#4a3d22"/><circle cx="276.71" cy="280.15" r="1.2" fill="#4a3d22"/><circle cx="285.14" cy="295.01" r="1.2" fill="#4a3d22"/><circle cx="293.57" cy="304.55" r="1.2" fill="#4a3d22"/><circle cx="302" cy="310.43" r="1.2" fill="#4a3d22"/><circle cx="310.43" cy="314.42" r="1.2" fill="#4a3d22"/><circle cx="318.86" cy="316.42" r="1.2" fill="#4a3d22"/><circle cx="327.29" cy="317.75" r="1.2" fill="#4a3d22"/><circle cx="335.72" cy="319.74" r="1.2" fill="#4a3d22"/><circle cx="344.15" cy="320.74" r="1.2" fill="#4a3d22"/><circle cx="352.58" cy="323.07" r="1.2" fill="#4a3d22"/><circle cx="361.01" cy="324.62" r="1.2" fill="#4a3d22"/><circle cx="369.44" cy="324.4" r="1.2" fill="#4a3d22"/><circle cx="377.87" cy="323.96" r="1.2" fill="#4a3d22"/><circle cx="386.3" cy="324.07" r="1.2" fill="#4a3d22"/><circle cx="394.73" cy="325.07" r="1.2" fill="#4a3d22"/><circle cx="403.16" cy="325.73" r="1.2" fill="#4a3d22"/><circle cx="411.59" cy="326.62" r="1.2" fill="#4a3d22"/><circle cx="420.02" cy="327.29" r="1.2" fill="#4a3d22"/><circle cx="428.45" cy="326.62" r="1.2" fill="#4a3d22"/></g>
<g><text x="107.55" y="380.03" font-family="Liberation Serif" font-weight="bold" font-size="11.0" text-anchor="middle" fill="#0a0a0a" stroke="#0a0a0a" stroke-width="0.25">(<tspan font-size="12.9" dy="0.87" dx="0.1">e</tspan><tspan dy="-0.87" dx="0.5">)</tspan></text><text x="111.3" y="392.6" font-family="Liberation Sans" font-weight="bold" font-size="5.9" text-anchor="middle" fill="#0a0a0a" stroke="#0a0a0a" stroke-width="0.16">ACF plot: <tspan font-weight="normal" font-style="italic">σ</tspan><tspan dy="2.4" font-size="4.2">e</tspan></text><line x1="69.5" y1="397.5" x2="69.5" y2="530.58" stroke="#f6f4f4" stroke-width="1"/><line x1="111.5" y1="397.5" x2="111.5" y2="530.58" stroke="#f6f4f4" stroke-width="1"/><line x1="153.5" y1="397.5" x2="153.5" y2="530.58" stroke="#f6f4f4" stroke-width="1"/><line x1="27.3" y1="419.5" x2="195.3" y2="419.5" stroke="#f6f4f4" stroke-width="1"/><line x1="27.3" y1="441.5" x2="195.3" y2="441.5" stroke="#f6f4f4" stroke-width="1"/><line x1="27.3" y1="464.5" x2="195.3" y2="464.5" stroke="#f6f4f4" stroke-width="1"/><line x1="27.3" y1="486.5" x2="195.3" y2="486.5" stroke="#f6f4f4" stroke-width="1"/><line x1="27.3" y1="508.5" x2="195.3" y2="508.5" stroke="#f6f4f4" stroke-width="1"/><rect x="27.3" y="397.4" width="168" height="133.18" fill="none" stroke="#bdbdbd" stroke-width="1.1"/><line x1="27.3" y1="530.58" x2="27.3" y2="528.98" stroke="#9a9a9a" stroke-width="0.8"/><line x1="27.3" y1="397.5" x2="27.3" y2="399.1" stroke="#9a9a9a" stroke-width="0.8"/><line x1="69.3" y1="530.58" x2="69.3" y2="528.98" stroke="#9a9a9a" stroke-width="0.8"/><line x1="69.3" y1="397.5" x2="69.3" y2="399.1" stroke="#9a9a9a" stroke-width="0.8"/><line x1="111.3" y1="530.58" x2="111.3" y2="528.98" stroke="#9a9a9a" stroke-width="0.8"/><line x1="111.3" y1="397.5" x2="111.3" y2="399.1" stroke="#9a9a9a" stroke-width="0.8"/><line x1="153.3" y1="530.58" x2="153.3" y2="528.98" stroke="#9a9a9a" stroke-width="0.8"/><line x1="153.3" y1="397.5" x2="153.3" y2="399.1" stroke="#9a9a9a" stroke-width="0.8"/><line x1="195.3" y1="530.58" x2="195.3" y2="528.98" stroke="#9a9a9a" stroke-width="0.8"/><line x1="195.3" y1="397.5" x2="195.3" y2="399.1" stroke="#9a9a9a" stroke-width="0.8"/><line x1="27.3" y1="397.5" x2="28.9" y2="397.5" stroke="#9a9a9a" stroke-width="0.8"/><line x1="195.3" y1="397.5" x2="193.7" y2="397.5" stroke="#9a9a9a" stroke-width="0.8"/><line x1="27.3" y1="419.68" x2="28.9" y2="419.68" stroke="#9a9a9a" stroke-width="0.8"/><line x1="195.3" y1="419.68" x2="193.7" y2="419.68" stroke="#9a9a9a" stroke-width="0.8"/><line x1="27.3" y1="441.86" x2="28.9" y2="441.86" stroke="#9a9a9a" stroke-width="0.8"/><line x1="195.3" y1="441.86" x2="193.7" y2="441.86" stroke="#9a9a9a" stroke-width="0.8"/><line x1="27.3" y1="464.04" x2="28.9" y2="464.04" stroke="#9a9a9a" stroke-width="0.8"/><line x1="195.3" y1="464.04" x2="193.7" y2="464.04" stroke="#9a9a9a" stroke-width="0.8"/><line x1="27.3" y1="486.22" x2="28.9" y2="486.22" stroke="#9a9a9a" stroke-width="0.8"/><line x1="195.3" y1="486.22" x2="193.7" y2="486.22" stroke="#9a9a9a" stroke-width="0.8"/><line x1="27.3" y1="508.4" x2="28.9" y2="508.4" stroke="#9a9a9a" stroke-width="0.8"/><line x1="195.3" y1="508.4" x2="193.7" y2="508.4" stroke="#9a9a9a" stroke-width="0.8"/><line x1="27.3" y1="530.58" x2="28.9" y2="530.58" stroke="#9a9a9a" stroke-width="0.8"/><line x1="195.3" y1="530.58" x2="193.7" y2="530.58" stroke="#9a9a9a" stroke-width="0.8"/><text x="24.9" y="399.5" font-size="5.3" text-anchor="end" fill="#2a2a2a" stroke="#2a2a2a" stroke-width="0.22">1</text><text x="24.9" y="421.68" font-size="5.3" text-anchor="end" fill="#2a2a2a" stroke="#2a2a2a" stroke-width="0.22">0.8</text><text x="24.9" y="443.86" font-size="5.3" text-anchor="end" fill="#2a2a2a" stroke="#2a2a2a" stroke-width="0.22">0.6</text><text x="24.9" y="466.04" font-size="5.3" text-anchor="end" fill="#2a2a2a" stroke="#2a2a2a" stroke-width="0.22">0.4</text><text x="24.9" y="488.22" font-size="5.3" text-anchor="end" fill="#2a2a2a" stroke="#2a2a2a" stroke-width="0.22">0.2</text><text x="24.9" y="510.4" font-size="5.3" text-anchor="end" fill="#2a2a2a" stroke="#2a2a2a" stroke-width="0.22">0</text><text x="24.9" y="532.58" font-size="5.3" text-anchor="end" fill="#2a2a2a" stroke="#2a2a2a" stroke-width="0.22">-0.2</text><text x="27.3" y="538.18" font-size="5.3" text-anchor="middle" fill="#2a2a2a" stroke="#2a2a2a" stroke-width="0.22">0</text><text x="69.3" y="538.18" font-size="5.3" text-anchor="middle" fill="#2a2a2a" stroke="#2a2a2a" stroke-width="0.22">5</text><text x="111.3" y="538.18" font-size="5.3" text-anchor="middle" fill="#2a2a2a" stroke="#2a2a2a" stroke-width="0.22">10</text><text x="153.3" y="538.18" font-size="5.3" text-anchor="middle" fill="#2a2a2a" stroke="#2a2a2a" stroke-width="0.22">15</text><text x="195.3" y="538.18" font-size="5.3" text-anchor="middle" fill="#2a2a2a" stroke="#2a2a2a" stroke-width="0.22">20</text><text x="111.3" y="546.48" font-size="5.6" text-anchor="middle" fill="#2a2a2a" stroke="#2a2a2a" stroke-width="0.22">Lag</text><text x="0" y="0" transform="translate(12.8,464.04) rotate(-90)" font-size="5.75" text-anchor="middle" fill="#2a2a2a" stroke="#2a2a2a" stroke-width="0.22">Sample Autocorrelation</text><line x1="31.5" y1="506.5" x2="195.3" y2="506.5" stroke="#a09ae0" stroke-width="1"/><line x1="31.5" y1="510.5" x2="195.3" y2="510.5" stroke="#a09ae0" stroke-width="1"/><line x1="27.3" y1="508.4" x2="27.3" y2="397.5" stroke="#bcab9b" stroke-width="1"/><line x1="35.7" y1="508.4" x2="35.7" y2="438.64" stroke="#bcab9b" stroke-width="1"/><line x1="44.1" y1="508.4" x2="44.1" y2="462.93" stroke="#bcab9b" stroke-width="1"/><line x1="52.5" y1="508.4" x2="52.5" y2="479.57" stroke="#bcab9b" stroke-width="1"/><line x1="60.9" y1="508.4" x2="60.9" y2="490.66" stroke="#bcab9b" stroke-width="1"/><line x1="69.3" y1="508.4" x2="69.3" y2="497.86" stroke="#bcab9b" stroke-width="1"/><line x1="77.7" y1="508.4" x2="77.7" y2="502.85" stroke="#bcab9b" stroke-width="1"/><line x1="86.1" y1="508.4" x2="86.1" y2="505.85" stroke="#bcab9b" stroke-width="1"/><line x1="94.5" y1="508.4" x2="94.5" y2="507.62" stroke="#bcab9b" stroke-width="1"/><line x1="102.9" y1="508.4" x2="102.9" y2="508.62" stroke="#bcab9b" stroke-width="1"/><line x1="111.3" y1="508.4" x2="111.3" y2="508.62" stroke="#bcab9b" stroke-width="1"/><line x1="119.7" y1="508.4" x2="119.7" y2="507.96" stroke="#bcab9b" stroke-width="1"/><line x1="128.1" y1="508.4" x2="128.1" y2="507.73" stroke="#bcab9b" stroke-width="1"/><line x1="136.5" y1="508.4" x2="136.5" y2="507.62" stroke="#bcab9b" stroke-width="1"/><line x1="144.9" y1="508.4" x2="144.9" y2="507.51" stroke="#bcab9b" stroke-width="1"/><line x1="153.3" y1="508.4" x2="153.3" y2="506.63" stroke="#bcab9b" stroke-width="1"/><line x1="161.7" y1="508.4" x2="161.7" y2="507.62" stroke="#bcab9b" stroke-width="1"/><line x1="170.1" y1="508.4" x2="170.1" y2="507.62" stroke="#bcab9b" stroke-width="1"/><line x1="178.5" y1="508.4" x2="178.5" y2="507.62" stroke="#bcab9b" stroke-width="1"/><line x1="186.9" y1="508.4" x2="186.9" y2="507.73" stroke="#bcab9b" stroke-width="1"/><line x1="195.3" y1="508.4" x2="195.3" y2="507.51" stroke="#bcab9b" stroke-width="1"/><line x1="27.3" y1="508.5" x2="195.3" y2="508.5" stroke="#6e6866" stroke-width="1"/><circle cx="27.3" cy="397.5" r="1.2" fill="#4a3d22"/><circle cx="35.7" cy="438.64" r="1.2" fill="#4a3d22"/><circle cx="44.1" cy="462.93" r="1.2" fill="#4a3d22"/><circle cx="52.5" cy="479.57" r="1.2" fill="#4a3d22"/><circle cx="60.9" cy="490.66" r="1.2" fill="#4a3d22"/><circle cx="69.3" cy="497.86" r="1.2" fill="#4a3d22"/><circle cx="77.7" cy="502.85" r="1.2" fill="#4a3d22"/><circle cx="86.1" cy="505.85" r="1.2" fill="#4a3d22"/><circle cx="94.5" cy="507.62" r="1.2" fill="#4a3d22"/><circle cx="102.9" cy="508.62" r="1.2" fill="#4a3d22"/><circle cx="111.3" cy="508.62" r="1.2" fill="#4a3d22"/><circle cx="119.7" cy="507.96" r="1.2" fill="#4a3d22"/><circle cx="128.1" cy="507.73" r="1.2" fill="#4a3d22"/><circle cx="136.5" cy="507.62" r="1.2" fill="#4a3d22"/><circle cx="144.9" cy="507.51" r="1.2" fill="#4a3d22"/><circle cx="153.3" cy="506.63" r="1.2" fill="#4a3d22"/><circle cx="161.7" cy="507.62" r="1.2" fill="#4a3d22"/><circle cx="170.1" cy="507.62" r="1.2" fill="#4a3d22"/><circle cx="178.5" cy="507.62" r="1.2" fill="#4a3d22"/><circle cx="186.9" cy="507.73" r="1.2" fill="#4a3d22"/><circle cx="195.3" cy="507.51" r="1.2" fill="#4a3d22"/></g>
<g><text x="340.4" y="380.03" font-family="Liberation Serif" font-weight="bold" font-size="11.0" text-anchor="middle" fill="#0a0a0a" stroke="#0a0a0a" stroke-width="0.25">(<tspan font-size="12.9" dy="0.87" dx="0.1">f</tspan><tspan dy="-0.87" dx="0.5">)</tspan></text><text x="344.15" y="392.6" font-family="Liberation Sans" font-weight="bold" font-size="5.9" text-anchor="middle" fill="#0a0a0a" stroke="#0a0a0a" stroke-width="0.16">ACF plot: <tspan font-weight="normal" font-style="italic">σ</tspan><tspan dy="2.4" font-size="4.2">v</tspan></text><line x1="302.5" y1="397.5" x2="302.5" y2="530.58" stroke="#f6f4f4" stroke-width="1"/><line x1="344.5" y1="397.5" x2="344.5" y2="530.58" stroke="#f6f4f4" stroke-width="1"/><line x1="386.5" y1="397.5" x2="386.5" y2="530.58" stroke="#f6f4f4" stroke-width="1"/><line x1="259.85" y1="419.5" x2="428.45" y2="419.5" stroke="#f6f4f4" stroke-width="1"/><line x1="259.85" y1="441.5" x2="428.45" y2="441.5" stroke="#f6f4f4" stroke-width="1"/><line x1="259.85" y1="464.5" x2="428.45" y2="464.5" stroke="#f6f4f4" stroke-width="1"/><line x1="259.85" y1="486.5" x2="428.45" y2="486.5" stroke="#f6f4f4" stroke-width="1"/><line x1="259.85" y1="508.5" x2="428.45" y2="508.5" stroke="#f6f4f4" stroke-width="1"/><rect x="259.85" y="397.4" width="168.6" height="133.18" fill="none" stroke="#bdbdbd" stroke-width="1.1"/><line x1="259.85" y1="530.58" x2="259.85" y2="528.98" stroke="#9a9a9a" stroke-width="0.8"/><line x1="259.85" y1="397.5" x2="259.85" y2="399.1" stroke="#9a9a9a" stroke-width="0.8"/><line x1="302" y1="530.58" x2="302" y2="528.98" stroke="#9a9a9a" stroke-width="0.8"/><line x1="302" y1="397.5" x2="302" y2="399.1" stroke="#9a9a9a" stroke-width="0.8"/><line x1="344.15" y1="530.58" x2="344.15" y2="528.98" stroke="#9a9a9a" stroke-width="0.8"/><line x1="344.15" y1="397.5" x2="344.15" y2="399.1" stroke="#9a9a9a" stroke-width="0.8"/><line x1="386.3" y1="530.58" x2="386.3" y2="528.98" stroke="#9a9a9a" stroke-width="0.8"/><line x1="386.3" y1="397.5" x2="386.3" y2="399.1" stroke="#9a9a9a" stroke-width="0.8"/><line x1="428.45" y1="530.58" x2="428.45" y2="528.98" stroke="#9a9a9a" stroke-width="0.8"/><line x1="428.45" y1="397.5" x2="428.45" y2="399.1" stroke="#9a9a9a" stroke-width="0.8"/><line x1="259.85" y1="397.5" x2="261.45" y2="397.5" stroke="#9a9a9a" stroke-width="0.8"/><line x1="428.45" y1="397.5" x2="426.85" y2="397.5" stroke="#9a9a9a" stroke-width="0.8"/><line x1="259.85" y1="419.68" x2="261.45" y2="419.68" stroke="#9a9a9a" stroke-width="0.8"/><line x1="428.45" y1="419.68" x2="426.85" y2="419.68" stroke="#9a9a9a" stroke-width="0.8"/><line x1="259.85" y1="441.86" x2="261.45" y2="441.86" stroke="#9a9a9a" stroke-width="0.8"/><line x1="428.45" y1="441.86" x2="426.85" y2="441.86" stroke="#9a9a9a" stroke-width="0.8"/><line x1="259.85" y1="464.04" x2="261.45" y2="464.04" stroke="#9a9a9a" stroke-width="0.8"/><line x1="428.45" y1="464.04" x2="426.85" y2="464.04" stroke="#9a9a9a" stroke-width="0.8"/><line x1="259.85" y1="486.22" x2="261.45" y2="486.22" stroke="#9a9a9a" stroke-width="0.8"/><line x1="428.45" y1="486.22" x2="426.85" y2="486.22" stroke="#9a9a9a" stroke-width="0.8"/><line x1="259.85" y1="508.4" x2="261.45" y2="508.4" stroke="#9a9a9a" stroke-width="0.8"/><line x1="428.45" y1="508.4" x2="426.85" y2="508.4" stroke="#9a9a9a" stroke-width="0.8"/><line x1="259.85" y1="530.58" x2="261.45" y2="530.58" stroke="#9a9a9a" stroke-width="0.8"/><line x1="428.45" y1="530.58" x2="426.85" y2="530.58" stroke="#9a9a9a" stroke-width="0.8"/><text x="257.45" y="399.5" font-size="5.3" text-anchor="end" fill="#2a2a2a" stroke="#2a2a2a" stroke-width="0.22">1</text><text x="257.45" y="421.68" font-size="5.3" text-anchor="end" fill="#2a2a2a" stroke="#2a2a2a" stroke-width="0.22">0.8</text><text x="257.45" y="443.86" font-size="5.3" text-anchor="end" fill="#2a2a2a" stroke="#2a2a2a" stroke-width="0.22">0.6</text><text x="257.45" y="466.04" font-size="5.3" text-anchor="end" fill="#2a2a2a" stroke="#2a2a2a" stroke-width="0.22">0.4</text><text x="257.45" y="488.22" font-size="5.3" text-anchor="end" fill="#2a2a2a" stroke="#2a2a2a" stroke-width="0.22">0.2</text><text x="257.45" y="510.4" font-size="5.3" text-anchor="end" fill="#2a2a2a" stroke="#2a2a2a" stroke-width="0.22">0</text><text x="257.45" y="532.58" font-size="5.3" text-anchor="end" fill="#2a2a2a" stroke="#2a2a2a" stroke-width="0.22">-0.2</text><text x="259.85" y="538.18" font-size="5.3" text-anchor="middle" fill="#2a2a2a" stroke="#2a2a2a" stroke-width="0.22">0</text><text x="302" y="538.18" font-size="5.3" text-anchor="middle" fill="#2a2a2a" stroke="#2a2a2a" stroke-width="0.22">5</text><text x="344.15" y="538.18" font-size="5.3" text-anchor="middle" fill="#2a2a2a" stroke="#2a2a2a" stroke-width="0.22">10</text><text x="386.3" y="538.18" font-size="5.3" text-anchor="middle" fill="#2a2a2a" stroke="#2a2a2a" stroke-width="0.22">15</text><text x="428.45" y="538.18" font-size="5.3" text-anchor="middle" fill="#2a2a2a" stroke="#2a2a2a" stroke-width="0.22">20</text><text x="344.15" y="546.48" font-size="5.6" text-anchor="middle" fill="#2a2a2a" stroke="#2a2a2a" stroke-width="0.22">Lag</text><text x="0" y="0" transform="translate(245.35,464.04) rotate(-90)" font-size="5.75" text-anchor="middle" fill="#2a2a2a" stroke="#2a2a2a" stroke-width="0.22">Sample Autocorrelation</text><line x1="264.06" y1="506.5" x2="428.45" y2="506.5" stroke="#a09ae0" stroke-width="1"/><line x1="264.06" y1="510.5" x2="428.45" y2="510.5" stroke="#a09ae0" stroke-width="1"/><line x1="259.85" y1="508.4" x2="259.85" y2="397.5" stroke="#bcab9b" stroke-width="1"/><line x1="268.28" y1="508.4" x2="268.28" y2="439.42" stroke="#bcab9b" stroke-width="1"/><line x1="276.71" y1="508.4" x2="276.71" y2="463.71" stroke="#bcab9b" stroke-width="1"/><line x1="285.14" y1="508.4" x2="285.14" y2="478.12" stroke="#bcab9b" stroke-width="1"/><line x1="293.57" y1="508.4" x2="293.57" y2="488.22" stroke="#bcab9b" stroke-width="1"/><line x1="302" y1="508.4" x2="302" y2="493.1" stroke="#bcab9b" stroke-width="1"/><line x1="310.43" y1="508.4" x2="310.43" y2="497.86" stroke="#bcab9b" stroke-width="1"/><line x1="318.86" y1="508.4" x2="318.86" y2="500.86" stroke="#bcab9b" stroke-width="1"/><line x1="327.29" y1="508.4" x2="327.29" y2="502.41" stroke="#bcab9b" stroke-width="1"/><line x1="335.72" y1="508.4" x2="335.72" y2="503.74" stroke="#bcab9b" stroke-width="1"/><line x1="344.15" y1="508.4" x2="344.15" y2="504.85" stroke="#bcab9b" stroke-width="1"/><line x1="352.58" y1="508.4" x2="352.58" y2="505.18" stroke="#bcab9b" stroke-width="1"/><line x1="361.01" y1="508.4" x2="361.01" y2="507.07" stroke="#bcab9b" stroke-width="1"/><line x1="369.44" y1="508.4" x2="369.44" y2="507.07" stroke="#bcab9b" stroke-width="1"/><line x1="377.87" y1="508.4" x2="377.87" y2="507.4" stroke="#bcab9b" stroke-width="1"/><line x1="386.3" y1="508.4" x2="386.3" y2="509.4" stroke="#bcab9b" stroke-width="1"/><line x1="394.73" y1="508.4" x2="394.73" y2="509.4" stroke="#bcab9b" stroke-width="1"/><line x1="403.16" y1="508.4" x2="403.16" y2="510.62" stroke="#bcab9b" stroke-width="1"/><line x1="411.59" y1="508.4" x2="411.59" y2="510.4" stroke="#bcab9b" stroke-width="1"/><line x1="420.02" y1="508.4" x2="420.02" y2="509.73" stroke="#bcab9b" stroke-width="1"/><line x1="428.45" y1="508.4" x2="428.45" y2="510.4" stroke="#bcab9b" stroke-width="1"/><line x1="259.85" y1="508.5" x2="428.45" y2="508.5" stroke="#6e6866" stroke-width="1"/><circle cx="259.85" cy="397.5" r="1.2" fill="#4a3d22"/><circle cx="268.28" cy="439.42" r="1.2" fill="#4a3d22"/><circle cx="276.71" cy="463.71" r="1.2" fill="#4a3d22"/><circle cx="285.14" cy="478.12" r="1.2" fill="#4a3d22"/><circle cx="293.57" cy="488.22" r="1.2" fill="#4a3d22"/><circle cx="302" cy="493.1" r="1.2" fill="#4a3d22"/><circle cx="310.43" cy="497.86" r="1.2" fill="#4a3d22"/><circle cx="318.86" cy="500.86" r="1.2" fill="#4a3d22"/><circle cx="327.29" cy="502.41" r="1.2" fill="#4a3d22"/><circle cx="335.72" cy="503.74" r="1.2" fill="#4a3d22"/><circle cx="344.15" cy="504.85" r="1.2" fill="#4a3d22"/><circle cx="352.58" cy="505.18" r="1.2" fill="#4a3d22"/><circle cx="361.01" cy="507.07" r="1.2" fill="#4a3d22"/><circle cx="369.44" cy="507.07" r="1.2" fill="#4a3d22"/><circle cx="377.87" cy="507.4" r="1.2" fill="#4a3d22"/><circle cx="386.3" cy="509.4" r="1.2" fill="#4a3d22"/><circle cx="394.73" cy="509.4" r="1.2" fill="#4a3d22"/><circle cx="403.16" cy="510.62" r="1.2" fill="#4a3d22"/><circle cx="411.59" cy="510.4" r="1.2" fill="#4a3d22"/><circle cx="420.02" cy="509.73" r="1.2" fill="#4a3d22"/><circle cx="428.45" cy="510.4" r="1.2" fill="#4a3d22"/></g></g></svg>
</body></html>
